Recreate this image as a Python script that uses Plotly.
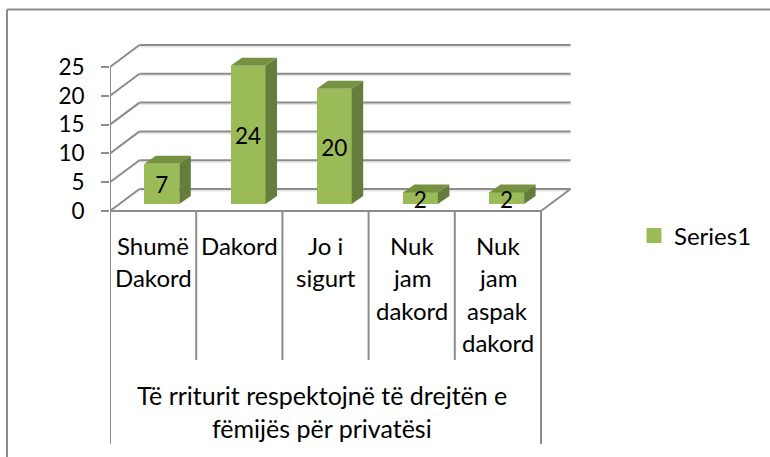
import plotly.graph_objects as go

# ---- data ----
categories = [["Shumë", "Dakord"], ["Dakord"], ["Jo i", "sigurt"], ["Nuk", "jam", "dakord"], ["Nuk", "jam", "aspak", "dakord"]]
values = [7, 24, 20, 2, 2]
value_ticks = [0, 5, 10, 15, 20, 25]
group_title = ["Të rriturit respektojnë të drejtën e", "fëmijës për privatësi"]
series_name = "Series1"

# ---- layout geometry ----
W, H = 770, 457
L = 110
CAT_W = 86.2
UNIT = 5.76
Y0 = 211


def X(px):
    return (px - L) / CAT_W - 0.5


def Y(py):
    return (Y0 - py) / UNIT


WALL_DX = 29.5 / CAT_W
WALL_DY = 22 / UNIT
BAR_W = 35 / CAT_W
BAR_SHIFT = 8.7 / CAT_W
BAR_BASE = 7 / UNIT
DEPTH_DX = 11.5 / CAT_W
DEPTH_DY = 8 / UNIT
n = len(values)
GRID = "#8c8c8c"
FONT = "Lato"
FS = 24
TITLE_FS = 25
NUM_FS = 22.5

fig = go.Figure()
shapes = []


def seg(x0, y0, x1, y1, color=GRID, width=2):
    shapes.append(dict(type="line", xref="x", yref="y", x0=x0, y0=y0, x1=x1, y1=y1, layer="below",
                       line=dict(color=color, width=width)))


# soft shadow beneath the wall lines, then the lines themselves
for t in value_ticks:
    seg(-0.5 + WALL_DX, t + WALL_DY - 0.3, n - 0.5 + WALL_DX, t + WALL_DY - 0.3, "#e6e6e6", 1.5)
for t in value_ticks:
    seg(-0.5, t, -0.5 + WALL_DX, t + WALL_DY)
    seg(-0.5 + WALL_DX, t + WALL_DY, n - 0.5 + WALL_DX, t + WALL_DY)
seg(n - 0.5, 0, n - 0.5 + WALL_DX, WALL_DY)
seg(-0.5, 0, n - 0.5, 0)
seg(-0.5, max(value_ticks), -0.5, Y(444))
seg(n - 0.5, 0, n - 0.5, Y(444))
for i in range(1, n):
    seg(i - 0.5, 0, i - 0.5, Y(360))

# bar fronts
fig.add_trace(go.Bar(x=[i + BAR_SHIFT for i in range(n)], y=values, base=[BAR_BASE] * n, width=BAR_W,
                     marker=dict(color="#9bbb59", line=dict(width=0)), showlegend=False, hoverinfo="skip"))

# bar sides and tops
for i, v in enumerate(values):
    x0 = i + BAR_SHIFT - BAR_W / 2
    x1 = i + BAR_SHIFT + BAR_W / 2
    b, t = BAR_BASE, BAR_BASE + v
    fig.add_trace(go.Scatter(x=[x1, x1 + DEPTH_DX, x1 + DEPTH_DX, x1, x1], y=[b, b + DEPTH_DY, t + DEPTH_DY, t, b],
                             mode="lines", fill="toself", fillcolor="#667c3a", line=dict(width=0),
                             showlegend=False, hoverinfo="skip"))
    fig.add_trace(go.Scatter(x=[x0, x0 + DEPTH_DX, x1 + DEPTH_DX, x1, x0], y=[t, t + DEPTH_DY, t + DEPTH_DY, t, t],
                             mode="lines", fill="toself", fillcolor="#76913f", line=dict(width=0),
                             showlegend=False, hoverinfo="skip"))

# data labels
fig.add_trace(go.Scatter(x=[i + BAR_SHIFT for i in range(n)], y=[BAR_BASE + v / 2 - 0.65 for v in values],
                         mode="text", text=[str(v) for v in values], textposition="middle center",
                         textfont=dict(family=FONT, size=NUM_FS, color="black"), showlegend=False, hoverinfo="skip",
                         cliponaxis=False))

# legend entry
fig.add_trace(go.Scatter(x=[None], y=[None], mode="markers", name=series_name,
                         marker=dict(symbol="square", size=15, color="#9bbb59")))

# category labels (one annotation per line: the reference has a wide line pitch)
ann = []
for i, lines in enumerate(categories):
    for j, s in enumerate(lines):
        ann.append(dict(x=i, y=Y(245 + 32.6 * j), text=s, showarrow=False, xanchor="center", yanchor="middle",
                        font=dict(family=FONT, size=FS, color="black")))
for j, s in enumerate(group_title):
    ann.append(dict(x=(n - 1) / 2 - 3.5 / CAT_W, y=Y(395 + 32.6 * j), text=s, showarrow=False, xanchor="center",
                    yanchor="middle", font=dict(family=FONT, size=TITLE_FS, color="black")))

# chart-area border: only the left and top edges are visible
px0 = (7 - L) / (W - L)
for a, b, c, d in [(px0, 1 - 9.5 / H, 1.0, 1 - 9.5 / H), (px0, 0.0, px0, 1 - 9.5 / H)]:
    shapes.append(dict(type="line", xref="paper", yref="paper", x0=a, y0=b, x1=c, y1=d, layer="below",
                       line=dict(color="#8c8c8c", width=2)))

fig.update_layout(
    width=W, height=H, margin=dict(l=L, r=0, t=0, b=0, autoexpand=False),
    paper_bgcolor="white", plot_bgcolor="rgba(0,0,0,0)", bargap=0, hovermode=False,
    xaxis=dict(range=[X(L), X(W)], visible=False, fixedrange=True),
    yaxis=dict(range=[Y(H), Y(0)], tickvals=value_ticks, ticks="outside", ticklen=8, tickwidth=2, tickcolor=GRID,
               ticklabelstandoff=12, showgrid=False, zeroline=False, showline=False, fixedrange=True,
               tickfont=dict(family=FONT, size=NUM_FS, color="black")),
    legend=dict(x=(634 - L) / (W - L), y=1 - 236 / H, xanchor="left", yanchor="middle", bgcolor="rgba(0,0,0,0)",
                font=dict(family=FONT, size=FS, color="black"), itemsizing="trace"),
    annotations=ann,
    shapes=shapes,
)
fig.write_html("out.html", config=dict(displayModeBar=False),
               post_script="document.body.style.margin='0';document.documentElement.style.overflow='hidden';")
